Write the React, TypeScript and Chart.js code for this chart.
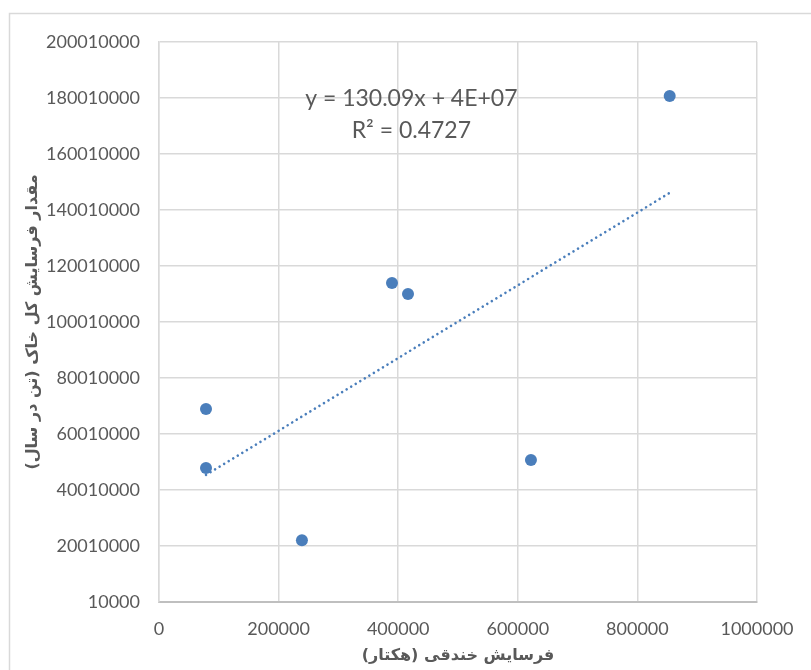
import React, { useEffect, useRef } from "react";
import { Chart, registerables } from "chart.js";

Chart.register(...registerables);

// Data
const gullyErosionHa: number[] = [78600, 78600, 239000, 389600, 416400, 622000, 854000];
const totalSoilErosion: number[] = [68900000, 47900000, 22100000, 113900000, 110000000, 50700000, 180700000];

const xTicks: number[] = [0, 200000, 400000, 600000, 800000, 1000000];
const yTicks: number[] = [10000, 20010000, 40010000, 60010000, 80010000, 100010000, 120010000, 140010000, 160010000, 180010000, 200010000];

const xTitle = "فرسایش خندقی (هکتار)";
const yTitle = "مقدار فرسایش کل خاک (تن در سال)";
const equationLines: string[] = ["y = 130.09x + 4E+07", "R² = 0.4727"];

const POINT_COLOR = "#4A7EBB";
const GRID_COLOR = "#D9D9D9";
const TEXT_COLOR = "#595959";

function linearFit(xs: number[], ys: number[]) {
  const n = xs.length;
  const mx = xs.reduce((a, b) => a + b, 0) / n;
  const my = ys.reduce((a, b) => a + b, 0) / n;
  let sxy = 0;
  let sxx = 0;
  for (let i = 0; i < n; i++) {
    sxy += (xs[i] - mx) * (ys[i] - my);
    sxx += (xs[i] - mx) * (xs[i] - mx);
  }
  const slope = sxy / sxx;
  return { slope, intercept: my - slope * mx };
}

const frame = {
  id: "frame",
  beforeDraw(chart: any) {
    const { ctx } = chart;
    ctx.save();
    ctx.fillStyle = "#ffffff";
    ctx.fillRect(0, 0, chart.width, chart.height);
    ctx.strokeStyle = GRID_COLOR;
    ctx.lineWidth = 1.5;
    ctx.beginPath();
    ctx.moveTo(9.5, chart.height + 5);
    ctx.lineTo(9.5, 13.5);
    ctx.lineTo(chart.width + 5, 13.5);
    ctx.stroke();
    ctx.restore();
  },
  afterDraw(chart: any) {
    const { ctx, chartArea } = chart;
    const cx = chartArea.left + (chartArea.right - chartArea.left) * 0.422;
    ctx.save();
    ctx.fillStyle = TEXT_COLOR;
    ctx.font = "23px Lato";
    ctx.textAlign = "center";
    ctx.textBaseline = "middle";
    const y0 = chartArea.top + (chartArea.bottom - chartArea.top) * 0.1;
    equationLines.forEach((t, i) => ctx.fillText(t, cx, y0 + 1 + i * 32));
    ctx.restore();
  },
};

export default function App() {
  const ref = useRef<HTMLCanvasElement | null>(null);

  useEffect(() => {
    if (!ref.current) return;
    const fit = linearFit(gullyErosionHa, totalSoilErosion);
    const xMin = Math.min(...gullyErosionHa);
    const xMax = Math.max(...gullyErosionHa);
    const trend = [
      { x: xMin, y: fit.slope * xMin + fit.intercept },
      { x: xMax, y: fit.slope * xMax + fit.intercept },
    ];
    const points = gullyErosionHa.map((x, i) => ({ x, y: totalSoilErosion[i] }));

    const chart = new Chart(ref.current, {
      type: "scatter",
      data: {
        datasets: [
          {
            label: "trend",
            data: trend,
            showLine: true,
            borderColor: POINT_COLOR,
            borderWidth: 2.6,
            borderDash: [0.01, 5.3],
            borderCapStyle: "round",
            pointRadius: 0,
            order: 2,
          } as any,
          {
            label: "data",
            data: points,
            backgroundColor: POINT_COLOR,
            borderColor: POINT_COLOR,
            pointRadius: 6,
            borderWidth: 0,
            order: 1,
          },
        ],
      },
      options: {
        responsive: false,
        animation: false,
        devicePixelRatio: 1,
        layout: { padding: { left: 0, top: 42, right: 54, bottom: 0 } },
        plugins: {
          legend: { display: false },
          tooltip: { enabled: false },
        },
        scales: {
          x: {
            type: "linear",
            min: 0,
            max: 1000000,
            afterBuildTicks(scale: any) {
              scale.ticks = xTicks.map((v) => ({ value: v }));
            },
            afterFit(scale: any) {
              scale.height = 68;
            },
            grid: { color: GRID_COLOR, lineWidth: 1.5, drawTicks: false },
            border: { color: "#BFBFBF", width: 2 },
            ticks: {
              color: TEXT_COLOR,
              font: { family: "Lato", size: 18 },
              padding: 16,
              maxRotation: 0,
              callback: (v: any) => String(v),
            },
            title: {
              display: true,
              text: xTitle,
              color: TEXT_COLOR,
              font: { family: "DejaVu Sans", size: 16, weight: "bold" },
              padding: { top: 0, bottom: 5 },
            },
          },
          y: {
            type: "linear",
            min: 10000,
            max: 200010000,
            afterBuildTicks(scale: any) {
              scale.ticks = yTicks.map((v) => ({ value: v }));
            },
            afterFit(scale: any) {
              scale.width = 159;
            },
            grid: { color: GRID_COLOR, lineWidth: 1.5, drawTicks: false },
            border: { color: GRID_COLOR, width: 1.5 },
            ticks: {
              color: TEXT_COLOR,
              font: { family: "Lato", size: 18 },
              padding: 19,
              callback: (v: any) => String(v),
            },
            title: {
              display: true,
              text: yTitle,
              color: TEXT_COLOR,
              font: { family: "DejaVu Sans", size: 16, weight: "bold" },
              padding: { top: 23, bottom: 0 },
            },
          },
        },
      },
      plugins: [frame],
    });
    return () => chart.destroy();
  }, []);

  return (
    <div style={{ position: "fixed", left: 0, top: 0, width: 811, height: 670 }}>
      <canvas ref={ref} width={811} height={670} style={{ width: 811, height: 670, display: "block" }} />
    </div>
  );
}
